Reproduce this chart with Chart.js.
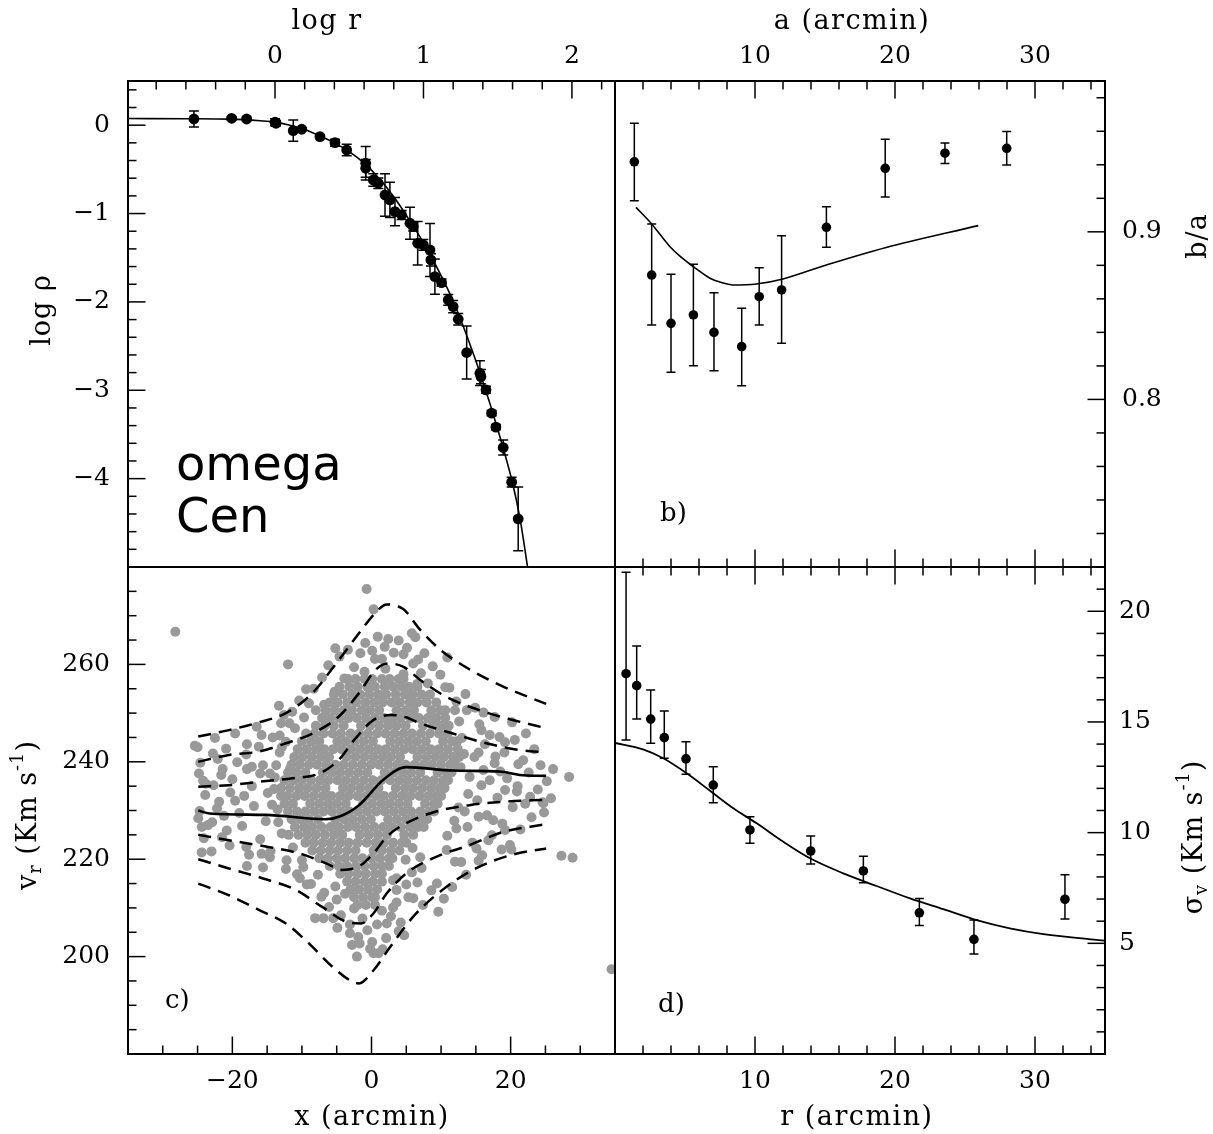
<!DOCTYPE html>
<html>
<head>
<meta charset="utf-8">
<script src="https://cdn.jsdelivr.net/npm/chart.js@4.4.0/dist/chart.umd.min.js"></script>
<style>
  body { margin: 0; background: #fff; }
  #wrap { position: relative; width: 1213px; height: 1134px; }
  #wrap canvas { position: absolute; left: 0; top: 0; }
</style>
</head>
<body>
<div id="wrap">
  <canvas id="panelA" width="1213" height="1134"></canvas>
  <canvas id="panelB" width="1213" height="1134"></canvas>
  <canvas id="panelC" width="1213" height="1134"></canvas>
  <canvas id="panelD" width="1213" height="1134"></canvas>
</div>
<script>
// ---- a) density profile ----
const densLogR = [-0.546,-0.292,-0.191,0.0,0.007,0.123,0.180,0.303,0.404,0.483,0.611,0.611,0.662,0.696,0.741,0.774,0.808,0.853,0.909,0.931,0.961,0.999,1.044,1.050,1.077,1.122,1.167,1.200,1.234,1.291,1.380,1.387,1.421,1.459,1.488,1.537,1.594,1.638];
const densLogRho = [0.070,0.078,0.070,0.033,0.022,-0.062,-0.046,-0.130,-0.198,-0.281,-0.431,-0.488,-0.620,-0.657,-0.790,-0.846,-0.978,-1.016,-1.110,-1.148,-1.336,-1.355,-1.412,-1.525,-1.714,-1.782,-1.977,-2.053,-2.196,-2.573,-2.807,-2.845,-2.995,-3.259,-3.417,-3.648,-4.040,-4.455];
const densErr = [0.09,0.02,0.02,0.04,0.03,0.12,0.02,0.02,0.04,0.066,0.19,0.1,0.07,0.06,0.24,0.2,0.16,0.05,0.18,0.05,0.245,0.06,0.3,0.07,0.2,0.04,0.06,0.07,0.065,0.3,0.14,0.08,0.04,0.03,0.03,0.085,0.055,0.36];
const densModelR = [-0.99,-0.6,-0.3,-0.1,0.0,0.1,0.2,0.3,0.4,0.5,0.6,0.7,0.8,0.9,1.0,1.1,1.2,1.3,1.4,1.5,1.6,1.65,1.71];
const densModel = [0.075,0.073,0.068,0.05,0.035,0.0,-0.05,-0.12,-0.2,-0.3,-0.43,-0.6,-0.81,-1.06,-1.33,-1.64,-1.99,-2.42,-2.9,-3.44,-4.05,-4.45,-5.1];

// ---- b) axis ratio ----
const axisA = [1.38,2.62,4.0,5.6,7.07,9.05,10.3,11.9,15.1,19.3,23.57,27.98];
const axisRatio = [0.9418,0.8742,0.8454,0.8504,0.840,0.8315,0.8613,0.8653,0.9027,0.9379,0.9469,0.9498];
const ratioLow = [0.9186,0.8444,0.8162,0.8201,0.8171,0.8082,0.8444,0.8335,0.8908,0.9208,0.9407,0.9399];
const ratioHigh = [0.9648,0.9047,0.8747,0.8806,0.8637,0.8544,0.8786,0.8977,0.915,0.9552,0.953,0.9598];
const ratioModelA = [1.5,2.62,3.93,4.7,5.6,6.79,7.5,8.45,10.1,12.0,15.1,19.3,25.95];
const ratioModel = [0.9146,0.9047,0.8911,0.885,0.8792,0.8723,0.870,0.8683,0.8689,0.8719,0.8802,0.8905,0.9037];

// ---- c) radial velocities ----
// dense core, one row per velocity: [v_r, x, x, ...]
const velCore = [
  [257.0, -3.4,-2.3,-1.0,0.1,1.5,2.6,3.9,4.6],
  [255.4, -4.6,-3.2,-2.0,-0.6,0.5,1.9,3.1,4.3,5.4,6.6],
  [253.8, -5.4,-4.1,-2.8,-1.6,-0.3,1.0,2.1,3.5,4.8,5.9,7.2,8.4],
  [252.2, -6.0,-4.9,-3.5,-2.2,-0.9,0.4,1.6,2.9,4.1,5.5,6.6,7.9,9.3],
  [250.6, -6.6,-5.3,-4.0,-2.8,-1.4,-0.2,1.1,3.6,4.9,6.1,8.6,9.9,10.6],
  [249.0, -7.1,-5.9,-4.6,-3.3,-2.1,-0.8,0.5,1.8,3.0,4.2,5.6,6.8,8.1,9.3,10.6],
  [247.4, -8.0,-6.7,-5.4,-4.0,-1.5,-0.2,1.1,2.4,3.6,4.9,7.4,8.8,10.0,11.1],
  [245.8, -9.4,-8.2,-6.9,-5.6,-4.4,-3.0,-1.8,-0.5,0.8,2.0,3.3,4.6,5.8,7.1,8.4,9.7,10.9],
  [244.2, -10.0,-8.7,-7.5,-4.9,-3.7,-2.4,-1.1,0.2,2.7,4.0,5.3,6.5,7.8,10.3,11.6,12.3],
  [242.6, -10.6,-9.3,-8.0,-6.8,-5.5,-4.3,-3.0,-1.7,-0.4,0.9,2.1,3.4,4.7,5.9,7.2,8.5,9.7,11.0,12.4],
  [241.0, -11.1,-9.9,-8.6,-7.3,-6.1,-3.6,-2.3,-1.0,0.3,1.6,2.8,4.1,6.6,7.9,9.2,10.4,11.7,12.6],
  [239.4, -11.5,-10.3,-9.0,-7.8,-6.5,-5.2,-4.0,-2.7,-1.4,-0.1,1.1,2.4,3.7,4.9,6.2,7.5,8.7,10.0,11.3,12.0],
  [237.8, -12.0,-10.8,-9.5,-7.0,-5.7,-4.5,-3.2,-1.9,-0.6,1.9,3.2,4.5,5.7,7.0,9.5,10.8,11.5],
  [236.2, -12.5,-11.2,-10.0,-8.7,-7.4,-6.2,-4.9,-3.7,-2.4,-1.1,0.2,1.4,2.7,4.0,5.2,6.5,7.8,9.0,10.3,11.0],
  [234.6, -13.0,-11.7,-10.4,-9.2,-7.9,-6.6,-4.1,-2.9,-1.6,-0.3,1.0,3.5,4.8,6.0,7.3,8.6,9.8,10.5],
  [233.0, -13.0,-12.1,-10.8,-9.6,-8.3,-7.0,-5.8,-4.5,-3.3,-2.0,-0.7,0.6,1.8,3.1,4.4,5.6,6.9,8.2,9.4,10.0],
  [231.4, -12.5,-11.3,-8.8,-7.5,-6.2,-5.0,-3.7,-1.2,0.1,1.4,2.6,3.9,5.2,7.7,9.0,9.5],
  [229.8, -12.0,-10.7,-9.5,-8.2,-6.9,-5.7,-4.4,-3.2,-1.9,-0.6,0.7,1.9,3.2,4.5,5.7,7.0,8.3,9.0],
  [228.2, -11.5,-10.2,-9.0,-7.7,-5.2,-3.9,-2.7,-1.4,-0.1,2.4,3.7,5.0,6.2,7.4,8.0],
  [226.6, -11.0,-9.7,-8.5,-7.2,-5.9,-4.7,-3.4,-2.2,-0.9,0.4,1.7,2.9,4.2,5.5,6.7,7.5],
  [225.0, -10.5,-9.2,-8.0,-6.7,-5.4,-4.2,-1.7,-0.4,0.9,2.2,4.7,6.0],
  [223.4, -9.5,-8.3,-7.0,-5.8,-4.5,-3.3,-2.0,-0.7,0.6,1.8,3.1,4.4,5.0],
  [221.8, -8.5,-7.3,-6.0,-4.8,-3.5,-2.3,0.3,1.5,2.8,4.0],
  [220.2, -7.5,-6.3,-5.0,-3.8,-2.5,-1.3,0.0,1.2,2.5,3.0],
  [218.6, -6.0,-4.7,-3.5,-2.2,-1.0,0.3,1.5,2.5],
  [217.0, -4.5,-3.3,-2.0,-0.8,0.5,1.5],
  [215.4, -3.5,-2.3,-1.0,0.2,1.5],
  [213.8, -3.0,-1.8,-0.5,0.8],
  [212.2, -2.5,-1.2,0.1,0.5],
  [210.6, -2.0,-0.8,0.5]
];
// scattered stars around the core: [x, v_r]
const velSpots = [
  [-28.2,266.7],[-0.7,275.5],[0.3,271.3],[2.4,265.2],[5.8,266.4],[6.3,265.6],[-5.2,263.3],[-12.0,260.0],
  [0.5,261.1],[1.5,261.1],[4.6,262.1],[6.7,261.0],[10.6,255.3],[12.0,250.6],[13.7,250.6],[16.1,250.1],
  [15.8,246.5],[17.0,245.5],[19.2,244.0],[22.2,245.8],[26.1,238.5],[28.4,236.9],[25.8,232.5],[24.6,231.7],
  [22.8,232.8],[27.3,220.7],[28.9,220.3],[34.5,197.4],[15.4,219.7],[12.0,219.5],[9.4,215.0],[4.7,204.4],
  [3.1,210.1],[0.3,200.7],[1.0,200.7],[-2.1,200.0],[-1.7,202.7],[-3.1,204.8],[-8.1,207.9],[-6.9,207.9],
  [-5.5,207.9],[-10.3,216.1],[-15.6,218.3],[-17.9,218.6],[-24.4,221.4],[-21.5,224.5],[-18.0,222.5],[-15.8,221.1],
  [-14.6,220.4],[-12.2,219.8],[-25.4,243.3],[-24.8,237.6],[-22.8,241.7],[-21.4,238.5],[-17.9,243.6],[-15.8,245.5],
  [-13.3,251.5],[-13.0,247.9],[-13.2,245.4],[-12.3,244.1],[-23.8,235.5],[-22.7,235.2],[-20.3,233.7],[-19.6,232.0],
  [-24.9,228.4],[-24.4,226.6],[-22.9,227.6],[-22.2,230.4],[-17.9,238.5],[-17.2,239.0],[-16.0,237.6],[-14.6,237.6],
  [15.4,241.9],[17.8,241.1],[21.1,239.5],[16.1,238.3],[18.5,238.0],[15.8,235.2],[19.2,234.2],[20.9,233.9],
  [24.7,231.5],[19.2,226.0],[18.7,222.0],[20.1,222.0],[15.1,222.2],[16.8,223.9],[10.8,221.9],[7.0,220.4],
  [5.3,212.2],[3.6,216.1],[3.6,213.7],[12.2,226.3],[15.4,228.7],[17.5,228.0],[-7.2,212.3],[-5.0,211.7],
  [2.2,206.8],[3.1,215.7],
  [-25.0,243.0],[-24.6,239.8],[-24.2,236.1],[-23.9,233.2],[-24.7,229.9],[-23.5,227.0],[-24.1,224.3],[-23.0,221.6],
  [-22.5,244.9],[-22.1,240.6],[-21.6,237.3],[-21.9,231.8],[-21.2,228.9],[-20.8,225.9],[-20.4,222.8],[-20.9,242.7],
  [-20.0,236.4],[-19.6,245.8],[-19.3,239.9],[-19.0,229.5],[-18.6,226.8],[-18.3,233.0],[-18.0,241.5],[-17.6,220.9],
  [-17.2,235.0],[-16.9,230.9],[-16.5,247.2],[-16.2,243.1],[-16.0,224.1],[-15.6,239.3],[-15.2,227.8],[-14.9,233.6],
  [-14.5,221.7],[-14.2,245.0],[-13.9,236.8],[-13.5,230.2],[-13.2,241.9],[-12.9,225.3],[-12.6,249.6],[-12.3,218.0],
  [-14.0,234.4],[-11.7,238.6],[-11.3,222.4],[-11.0,246.9],[-10.7,216.9],[-10.4,252.6],[-10.0,219.8],[-9.7,249.1],
  [-9.3,214.8],[-9.0,252.0],
  [12.2,252.4],[12.6,248.3],[13.0,244.9],[13.4,229.8],[13.8,226.6],[14.1,236.9],[14.5,223.4],[14.8,241.0],
  [15.2,232.1],[15.5,247.7],[15.9,220.8],[16.3,243.6],[16.6,229.0],[17.0,236.2],[17.3,224.9],[17.7,239.7],
  [18.1,232.6],[18.4,245.1],[18.8,227.3],[19.1,241.9],[19.5,236.6],[19.9,222.9],[20.3,230.7],[20.6,244.5],
  [21.0,235.0],[21.4,226.1],[21.8,240.3],[22.1,231.4],[22.6,237.8],[23.0,228.6],[23.4,242.6],[23.9,234.3],
  [24.3,239.3],[24.8,229.6],[25.2,236.0],[12.9,219.4],[13.6,216.8],[11.6,214.3],[10.4,211.9],[9.6,209.2],
  [8.6,213.6],[7.4,210.6],[11.2,255.2],[9.9,257.9],[8.8,259.6],[10.9,261.4],[13.5,253.9],[14.9,251.1],
  [17.7,249.2],[20.2,248.1],[13.9,233.4],[12.8,238.9],[13.3,241.6],[12.5,230.6],[11.9,227.9],[10.9,224.8],
  [-8.3,255.0],[-7.1,257.3],[-6.2,259.8],[-5.3,254.4],[-4.6,261.6],[-3.4,263.0],[-2.5,259.4],[-1.6,262.3],
  [-0.9,264.4],[0.1,262.8],[0.9,265.7],[1.9,263.6],[3.2,262.4],[3.9,264.9],[5.1,263.4],[6.0,260.2],
  [7.1,258.2],[8.1,256.1],[-6.8,251.7],[-8.0,250.6],[-11.4,250.3],[-9.4,254.9],[7.6,262.3],[-3.9,257.1],
  [4.6,258.0],[-1.0,258.5],[2.0,259.1],[6.6,256.0],
  [-9.8,218.4],[-8.7,214.9],[-7.7,216.8],[-6.8,213.1],[-6.1,210.2],[-5.2,214.4],[-4.4,208.5],[-3.8,212.9],
  [-3.1,206.6],[-2.5,209.9],[-1.9,204.0],[-1.3,207.8],[-0.6,205.4],[0.1,203.0],[0.8,206.6],[1.5,209.4],
  [2.1,203.8],[2.8,208.3],[3.6,211.1],[4.2,207.0],[5.0,214.8],[5.8,217.3],[6.6,215.2],[7.2,218.2],
  [-0.2,201.6],[-2.8,202.4],[1.6,201.5],[-4.9,205.9],[3.9,205.2],[6.0,212.0],[4.9,219.9],[5.9,222.3],
  [-11.9,225.0],[-13.4,227.6],[-14.3,231.2],[-13.7,239.3],[-12.9,243.0],[-11.8,247.9]
];
const meanX = [-24.9,-23.3,-15.2,-6.6,-4.7,-1.8,1.7,5.0,11.7,18.4,21.3,25.1];
const meanV = [230.0,229.4,229.1,228.2,228.7,231.1,236.3,238.9,238.2,238.0,237.3,237.1];
const up3X = [-24.9,-20.5,-16.2,-12.3,-8.5,-4.7,-1.8,0.5,2.2,4.6,7.0,9.9,14.2,19.0,25.1];
const up3V = [245.2,246.5,248.1,250.0,254.1,260.9,266.4,270.5,272.3,271.3,267.1,263.0,258.9,255.4,251.9];
const up2X = [-24.9,-20.5,-16.2,-12.3,-8.5,-4.7,-1.8,0.6,2.3,4.6,7.0,10.7,15.5,20.3,25.1];
const up2V = [240.0,241.4,242.1,243.8,245.8,249.3,254.1,258.9,260.2,259.5,256.8,253.4,250.6,248.6,246.9];
const up1X = [-24.9,-20.5,-16.2,-11.4,-7.5,-4.7,-2.3,0.3,2.7,4.6,7.0,11.7,16.5,21.3,25.1];
const up1V = [234.9,235.2,235.9,236.6,237.6,240.4,244.8,248.6,249.6,249.3,247.9,245.8,243.8,242.4,241.9];
const lo1X = [-24.9,-20.5,-15.2,-10.4,-6.6,-4.2,-1.8,0.3,2.2,5.0,9.3,14.1,18.9,25.1];
const lo1V = [225.0,223.9,222.6,221.2,219.2,217.8,218.5,221.2,224.6,227.4,229.8,231.1,231.8,232.2];
const lo2X = [-24.9,-20.5,-15.7,-10.9,-7.1,-3.7,-1.5,0.3,2.2,5.0,9.3,14.1,18.9,25.1];
const lo2V = [220.0,218.1,216.1,213.7,210.2,207.2,206.8,208.9,213.0,217.1,220.5,222.9,225.6,227.2];
const lo3X = [-24.9,-20.5,-16.2,-12.3,-9.0,-5.6,-2.7,-1.8,0.3,2.7,6.0,10.2,15.0,20.2,25.1];
const lo3V = [215.0,212.6,209.6,206.8,202.7,197.9,194.8,194.5,197.2,202.0,208.2,213.7,218.1,220.9,222.2];

// ---- d) velocity dispersion ----
const sigR = [0.79,1.55,2.55,3.52,5.07,7.02,9.64,13.98,17.74,21.74,25.64,32.14];
const sigV = [17.18,16.64,15.13,14.29,13.33,12.15,10.12,9.17,8.27,6.38,5.18,6.99];
const sigLow = [14.18,15.13,14.04,13.36,12.64,11.35,9.52,8.58,7.74,5.80,4.52,6.10];
const sigHigh = [21.76,18.43,16.44,15.49,14.11,12.98,10.72,9.85,8.93,7.03,6.05,8.10];
const sigModelR = [0,2.0,3.45,5.12,6.79,8.45,10.12,12.02,13.93,16.31,18.69,21.07,23.45,25.83,28.2,30.6,35];
const sigModel = [14.05,13.76,13.36,12.68,11.89,11.10,10.42,9.59,8.84,8.16,7.59,7.03,6.54,6.05,5.68,5.42,5.12];

// ---------------------------------------------------------------
const SERIF = '"DejaVu Serif", serif';
const SANS = '"DejaVu Sans", sans-serif';
const W = 1213, H = 1134;
const L = 128, M = 615, R = 1105, T = 81, MY = 567, B = 1054;

function pts(xs, ys) { return xs.map((x, i) => ({ x: x, y: ys[i] })); }
function minus(v) { return v < 0 ? '\u2212' + Math.abs(v) : String(v); }

// size = room given to the axis box (labels are clipped to it)
function axis(position, min, max, step, size, labels, pad) {
  return {
    type: 'linear', position: position, min: min, max: max,
    afterFit: function (s) { if (s.isHorizontal()) s.height = size; else s.width = size; },
    grid: { display: false, drawTicks: false },
    border: { display: true, color: '#000', width: 2 },
    ticks: {
      display: !!labels, stepSize: step, includeBounds: false, autoSkip: false, maxRotation: 0,
      padding: pad || 0, color: '#000', font: { family: SERIF, size: 25 },
      callback: function (v) { return labels ? labels(v) : ''; }
    }
  };
}

// inward tick marks, major and minor
function tickMarks(sides) {
  return {
    id: 'tickMarks',
    afterDraw: function (chart) {
      const ctx = chart.ctx;
      ctx.save();
      ctx.strokeStyle = '#000';
      ctx.lineWidth = 1.5;
      sides.forEach(function (sd) {
        const s = chart.scales[sd.scale];
        const n0 = Math.ceil(s.min / sd.minor - 1e-6), n1 = Math.floor(s.max / sd.minor + 1e-6);
        for (let n = n0; n <= n1; n++) {
          const v = n * sd.minor, q = v / sd.major;
          const len = Math.abs(q - Math.round(q)) < 1e-6 ? 17.5 : 8.5;
          const p = s.getPixelForValue(v);
          ctx.beginPath();
          if (s.position === 'top') { ctx.moveTo(p, s.bottom); ctx.lineTo(p, s.bottom + len); }
          else if (s.position === 'bottom') { ctx.moveTo(p, s.top); ctx.lineTo(p, s.top - len); }
          else if (s.position === 'left') { ctx.moveTo(s.right, p); ctx.lineTo(s.right + len, p); }
          else { ctx.moveTo(s.left, p); ctx.lineTo(s.left - len, p); }
          ctx.stroke();
        }
      });
      ctx.restore();
    }
  };
}

const errorBars = {
  id: 'errorBars',
  afterDatasetsDraw: function (chart) {
    const ctx = chart.ctx;
    chart.data.datasets.forEach(function (ds) {
      if (!ds.errLow) return;
      const xs = chart.scales.x, ys = chart.scales.y;
      ctx.save();
      ctx.strokeStyle = '#000';
      ctx.lineWidth = 1.5;
      ds.data.forEach(function (pt, j) {
        const px = xs.getPixelForValue(pt.x);
        const y0 = ys.getPixelForValue(ds.errLow[j]), y1 = ys.getPixelForValue(ds.errHigh[j]);
        const c = ds.capHalf;
        ctx.beginPath();
        ctx.moveTo(px, y0); ctx.lineTo(px, y1);
        ctx.moveTo(px - c, y0); ctx.lineTo(px + c, y0);
        ctx.moveTo(px - c, y1); ctx.lineTo(px + c, y1);
        ctx.stroke();
      });
      ctx.restore();
    });
  }
};

// free text: axis titles with sub/superscripts, panel letters
function texts(items) {
  return {
    id: 'texts',
    afterDraw: function (chart) {
      const ctx = chart.ctx;
      items.forEach(function (it) {
        const parts = it.parts || [{ t: it.text }];
        const fam = it.family || SERIF, size = it.size || 26;
        ctx.save();
        ctx.fillStyle = '#000';
        ctx.translate(it.x, it.y);
        if (it.rot) ctx.rotate(it.rot);
        ctx.textBaseline = it.base || 'alphabetic';
        ctx.textAlign = 'left';
        if (it.spacing) ctx.letterSpacing = it.spacing + 'px';
        let total = 0;
        const seg = parts.map(function (p) {
          const fs = (p.sub || p.sup) ? size * 0.66 : size;
          ctx.font = fs + 'px ' + fam;
          const w = ctx.measureText(p.t).width;
          total += w;
          return { p: p, fs: fs, w: w };
        });
        let cx = it.align === 'left' ? 0 : -total / 2;
        seg.forEach(function (s) {
          ctx.font = s.fs + 'px ' + fam;
          const dy = s.p.sub ? size * 0.28 : (s.p.sup ? -size * 0.4 : 0);
          ctx.fillText(s.p.t, cx, dy);
          cx += s.w;
        });
        ctx.restore();
      });
    }
  };
}

function baseOptions(padding, scales) {
  return {
    responsive: false, animation: false, devicePixelRatio: 1, events: [],
    layout: { padding: padding },
    plugins: { legend: { display: false }, tooltip: { enabled: false } },
    scales: scales
  };
}

const UP = -Math.PI / 2;

// a) top left
new Chart(document.getElementById('panelA'), {
  type: 'scatter',
  data: {
    datasets: [
      { data: pts(densLogR, densLogRho), pointRadius: 5.4, pointBackgroundColor: '#000', pointBorderWidth: 0,
        errLow: densLogRho.map((v, i) => v - densErr[i]), errHigh: densLogRho.map((v, i) => v + densErr[i]), capHalf: 5 },
      { data: pts(densModelR, densModel), showLine: true, pointRadius: 0, borderColor: '#000', borderWidth: 1.6,
        cubicInterpolationMode: 'monotone' }
    ]
  },
  options: baseOptions({ left: 0, top: 0, right: W - M, bottom: H - MY }, {
    x: axis('bottom', -0.99, 2.29, 1, 0),
    x2: axis('top', -0.99, 2.29, 1, T, minus, 10),
    y: axis('left', -5, 0.5, 1, L, v => v < -4.5 ? '' : minus(v), 18),
    y2: axis('right', -5, 0.5, 1, 0)
  }),
  plugins: [errorBars,
    tickMarks([{ scale: 'x2', minor: 0.2, major: 1 }, { scale: 'y', minor: 0.2, major: 1 }]),
    texts([
      { text: 'log r', x: 327, y: 29, size: 27, spacing: 1.5 },
      { parts: [{ t: 'log ' }, { t: '\u03c1' }], x: 43, y: 310, rot: UP, base: 'middle', size: 27, spacing: 1 },
      { text: 'omega', x: 176, y: 480, family: SANS, size: 48, align: 'left' },
      { text: 'Cen', x: 176, y: 532, family: SANS, size: 48, align: 'left' }
    ])]
});

// b) top right
new Chart(document.getElementById('panelB'), {
  type: 'scatter',
  data: {
    datasets: [
      { data: pts(axisA, axisRatio), pointRadius: 4.8, pointBackgroundColor: '#000', pointBorderWidth: 0,
        errLow: ratioLow, errHigh: ratioHigh, capHalf: 4.5 },
      { data: pts(ratioModelA, ratioModel), showLine: true, pointRadius: 0, borderColor: '#000', borderWidth: 1.6,
        cubicInterpolationMode: 'monotone' }
    ]
  },
  options: baseOptions({ left: M, top: 0, right: 0, bottom: H - MY }, {
    x: axis('bottom', 0, 35, 10, 0),
    x2: axis('top', 0, 35, 10, T, v => v > 0 ? String(v) : '', 10),
    y: axis('left', 0.70, 0.99, 0.1, 0),
    y2: axis('right', 0.70, 0.99, 0.1, W - R, v => v > 0.75 ? v.toFixed(1) : '', 17)
  }),
  plugins: [errorBars,
    tickMarks([{ scale: 'x2', minor: 2, major: 10 }, { scale: 'x', minor: 2, major: 10 }, { scale: 'y2', minor: 0.02, major: 0.1 }]),
    texts([
      { text: 'a (arcmin)', x: 852, y: 29, size: 27, spacing: 1.5 },
      { text: 'b/a', x: 1199, y: 236, rot: UP, base: 'middle', size: 27, spacing: 1 },
      { text: 'b)', x: 660, y: 521, size: 26, align: 'left' }
    ])]
});

// c) bottom left
const velPairs = [];
velCore.forEach(function (row) { row.slice(1).forEach(function (x) { velPairs.push({ x: x, y: row[0] }); }); });
velSpots.forEach(function (p) { velPairs.push({ x: p[0], y: p[1] }); });
function dashed(xs, vs) {
  return { data: pts(xs, vs), showLine: true, pointRadius: 0, borderColor: '#000', borderWidth: 2.5,
    borderDash: [13, 8], cubicInterpolationMode: 'monotone' };
}
new Chart(document.getElementById('panelC'), {
  type: 'scatter',
  data: {
    datasets: [
      { data: pts(meanX, meanV), showLine: true, pointRadius: 0, borderColor: '#000', borderWidth: 2.6,
        cubicInterpolationMode: 'monotone' },
      dashed(up1X, up1V), dashed(up2X, up2V), dashed(up3X, up3V),
      dashed(lo1X, lo1V), dashed(lo2X, lo2V), dashed(lo3X, lo3V),
      { data: velPairs, pointRadius: 5, pointBackgroundColor: '#999', pointBorderWidth: 0 }
    ]
  },
  options: baseOptions({ left: 0, top: MY, right: W - M, bottom: 0 }, {
    x: axis('bottom', -35, 35, 20, H - B, minus, 12),
    x2: axis('top', -35, 35, 20, 0),
    y: axis('left', 180, 280, 20, L, v => (v > 190 && v < 270) ? String(v) : '', 18),
    y2: axis('right', 180, 280, 20, 0)
  }),
  plugins: [
    tickMarks([{ scale: 'x', minor: 5, major: 20 }, { scale: 'y', minor: 5, major: 20 }]),
    texts([
      { text: 'x (arcmin)', x: 372, y: 1125, size: 27, spacing: 1.5 },
      { parts: [{ t: 'v' }, { t: 'r', sub: true }, { t: ' (Km s' }, { t: '-1', sup: true }, { t: ')' }],
        x: 29, y: 815, rot: UP, base: 'middle', size: 27, spacing: 1 },
      { text: 'c)', x: 165, y: 1008, size: 26, align: 'left' }
    ])]
});

// d) bottom right
new Chart(document.getElementById('panelD'), {
  type: 'scatter',
  data: {
    datasets: [
      { data: pts(sigR, sigV), pointRadius: 4.8, pointBackgroundColor: '#000', pointBorderWidth: 0,
        errLow: sigLow, errHigh: sigHigh, capHalf: 4.5 },
      { data: pts(sigModelR, sigModel), showLine: true, pointRadius: 0, borderColor: '#000', borderWidth: 1.8,
        cubicInterpolationMode: 'monotone' }
    ]
  },
  options: baseOptions({ left: M, top: MY, right: 0, bottom: 0 }, {
    x: axis('bottom', 0, 35, 10, H - B, v => v > 0 ? String(v) : '', 12),
    x2: axis('top', 0, 35, 10, 0),
    y: axis('left', 0, 22, 5, 0),
    y2: axis('right', 0, 22, 5, W - R, v => v > 0 ? String(v) : '', 14)
  }),
  plugins: [errorBars,
    tickMarks([{ scale: 'x2', minor: 2, major: 10 }, { scale: 'x', minor: 2, major: 10 }, { scale: 'y2', minor: 1, major: 5 }]),
    texts([
      { text: 'r (arcmin)', x: 857, y: 1125, size: 27, spacing: 1.5 },
      { parts: [{ t: '\u03c3' }, { t: 'v', sub: true }, { t: ' (Km s' }, { t: '-1', sup: true }, { t: ')' }],
        x: 1195, y: 837, rot: UP, base: 'middle', size: 27, spacing: 1 },
      { text: 'd)', x: 658, y: 1012, size: 26, align: 'left' }
    ])]
});
</script>
</body>
</html>
